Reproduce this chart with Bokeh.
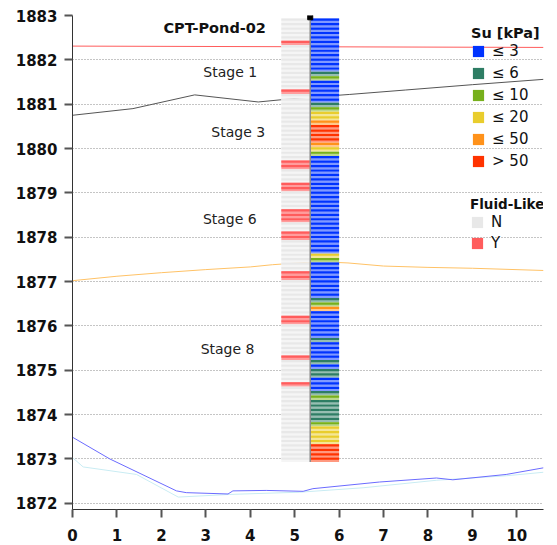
from bokeh.plotting import figure
from bokeh.models import Legend, LegendItem, ColumnDataSource, FixedTicker
from bokeh.embed import file_html
from bokeh.resources import INLINE
from bokeh.core.properties import value

FONT = "DejaVu Sans"

# --- Su classes -----------------------------------------------------------
SU_LABELS = ["≤ 3", "≤ 6", "≤ 10", "≤ 20", "≤ 50", "> 50"]
SU_COLORS = ["#0033ff", "#2e7d64", "#77b01c", "#e9cd2d", "#ff921a", "#ff3300"]

# CPT sounding: class index per 0.1 m sample, from the top of the hole down
CPT_NAME = "CPT-Pond-02"
CPT_X = 5.35
CPT_TOP = 1882.93
SAMPLE_STEP = 0.1
SU_CLASS = [
    0, 0, 0, 0, 0, 0, 0, 0, 0, 0,
    0, 0, 1, 2, 0, 0, 0, 0, 0, 1,
    2, 3, 3, 4, 5, 5, 5, 5, 4, 3,
    2, 0, 0, 0, 0, 0, 0, 0, 0, 0,
    0, 0, 0, 0, 0, 0, 0, 0, 0, 0,
    0, 0, 0, 3, 2, 0, 0, 0, 0, 0,
    0, 0, 0, 1, 2, 4, 0, 0, 0, 0,
    0, 0, 1, 0, 0, 0, 0, 1, 0, 1,
    1, 0, 0, 0, 1, 2, 1, 1, 1, 1,
    1, 2, 3, 3, 3, 3, 5, 5, 5, 5,
]
# samples flagged as fluid-like behaviour
FLUID_Y_SAMPLES = [5, 16, 32, 33, 37, 38, 43, 44, 45, 48, 49, 57, 58, 67, 68, 76, 82]
FLUID_LABELS = ["N", "Y"]
FLUID_DARK = ["#e8e8e8", "#ff5c5c"]
FLUID_LIGHT = ["#f5f5f5", "#ff9c9c"]

# --- stage surfaces along the section ---------------------------------------
STAGE1_X = [0, 10.6]
STAGE1_Y = [1882.31, 1882.28]
STAGE3_X = [0, 1.36, 2.75, 4.18, 5.11, 6.24, 7.5, 9.0, 10.6]
STAGE3_Y = [1880.75, 1880.90, 1881.21, 1881.05, 1881.14, 1881.22, 1881.32, 1881.44, 1881.56]
STAGE6_X = [0, 1.0, 2.0, 3.0, 4.0, 4.5, 5.5, 6.2, 7.0, 8.0, 9.0, 10.6]
STAGE6_Y = [1877.02, 1877.12, 1877.20, 1877.27, 1877.33, 1877.38, 1877.45, 1877.42, 1877.35, 1877.32, 1877.30, 1877.25]
STAGE8_X = [0, 0.84, 2.34, 2.56, 3.50, 3.61, 4.36, 5.19, 5.41, 6.91, 8.19, 8.56, 9.76, 10.6]
STAGE8_Y = [1873.49, 1873.00, 1872.28, 1872.24, 1872.21, 1872.28, 1872.29, 1872.27, 1872.33, 1872.48, 1872.57, 1872.53, 1872.65, 1872.80]
BASE_X = [0, 0.24, 1.44, 2.38, 3.54, 5.11, 6.54, 8.2, 9.76, 10.6]
BASE_Y = [1873.03, 1872.82, 1872.65, 1872.14, 1872.20, 1872.25, 1872.35, 1872.52, 1872.62, 1872.70]

STAGE_LABELS = ["Stage 1", "Stage 3", "Stage 6", "Stage 8"]
STAGE_LABEL_X = [3.55, 3.73, 3.54, 3.49]
STAGE_LABEL_Y = [1881.72, 1880.38, 1878.40, 1875.47]

X_TICKS = list(range(0, 11))
Y_TICKS = list(range(1872, 1884))


def lighten(hex_color, t=0.5):
    r, g, b = (int(hex_color[i:i + 2], 16) for i in (1, 3, 5))
    mix = lambda c: int(round(c + (255 - c) * t))
    return "#%02x%02x%02x" % (mix(r), mix(g), mix(b))


p = figure(width=557, height=545, x_range=(0, 10.6), y_range=(1871.86, 1883.0),
           output_backend="svg", toolbar_location=None,
           min_border_left=72, min_border_right=14, min_border_top=15, min_border_bottom=36)
p.outline_line_color = None
p.background_fill_color = "white"
p.xgrid.visible = False
p.ygrid.ticker = FixedTicker(ticks=Y_TICKS)
p.ygrid.grid_line_color = "#8a8a8a"
p.ygrid.grid_line_dash = "1 2"
p.ygrid.grid_line_width = 1

for ax in (p.xaxis[0], p.yaxis[0]):
    ax.axis_line_color = "#333333"
    ax.major_tick_line_color = "#555555"
    ax.major_tick_line_width = 2
    ax.minor_tick_line_color = None
    ax.major_tick_in = 0
    ax.major_tick_out = 8
    ax.major_label_text_font = FONT
    ax.major_label_text_font_style = "bold"
    ax.major_label_text_font_size = "15px"
    ax.major_label_text_color = "#111111"
p.xaxis.ticker = FixedTicker(ticks=X_TICKS)
p.yaxis.ticker = FixedTicker(ticks=Y_TICKS)
p.xaxis.major_label_standoff = 11
p.yaxis.major_label_standoff = 7

# stage surfaces
p.line(STAGE1_X, STAGE1_Y, line_color="#ff5c5c", line_width=1)
p.line(STAGE3_X, STAGE3_Y, line_color="#555555", line_width=1)
p.line(STAGE6_X, STAGE6_Y, line_color="#ffc266", line_width=1)
p.line(BASE_X, BASE_Y, line_color="#c9ecf3", line_width=1)
p.line(STAGE8_X, STAGE8_Y, line_color="#6b6bff", line_width=1)

# sounding columns: each sample drawn as a pale full-height cell with a
# solid upper half on top, which gives the banded look of the log
n = len(SU_CLASS)
tops = [CPT_TOP - i * SAMPLE_STEP for i in range(n)]
mids = [t - SAMPLE_STEP / 2 for t in tops]
bots = [t - SAMPLE_STEP for t in tops]
fluid_idx = [1 if i in FLUID_Y_SAMPLES else 0 for i in range(n)]

col_w = 0.65
fl_left, fl_right = CPT_X - col_w, CPT_X
su_left, su_right = CPT_X, CPT_X + col_w

p.quad(left=fl_left, right=fl_right, top=tops, bottom=bots,
       fill_color=[FLUID_LIGHT[k] for k in fluid_idx], line_color=None)
fluid_renderers = []
for k in range(len(FLUID_LABELS)):
    rows = [i for i in range(n) if fluid_idx[i] == k]
    src = ColumnDataSource(dict(top=[tops[i] for i in rows], bottom=[mids[i] for i in rows]))
    fluid_renderers.append(p.quad(left=fl_left, right=fl_right, top="top", bottom="bottom",
                                  source=src, fill_color=FLUID_DARK[k], line_color=None))

p.quad(left=su_left, right=su_right, top=tops, bottom=bots,
       fill_color=[lighten(SU_COLORS[k], 0.5) for k in SU_CLASS], line_color=None)
su_renderers = []
for k in range(len(SU_LABELS)):
    rows = [i for i in range(n) if SU_CLASS[i] == k]
    src = ColumnDataSource(dict(top=[tops[i] for i in rows], bottom=[mids[i] for i in rows]))
    su_renderers.append(p.quad(left=su_left, right=su_right, top="top", bottom="bottom",
                               source=src, fill_color=SU_COLORS[k], line_color=None))

p.segment(x0=[CPT_X], y0=[CPT_TOP], x1=[CPT_X], y1=[bots[-1]], line_color="#8c8c8c", line_width=1.5)
p.scatter(x=[CPT_X], y=[CPT_TOP + 0.03], marker="square", size=5, color="black")

# labels
p.text(x=[3.2], y=[1882.72], text=[CPT_NAME], text_font=value(FONT), text_font_style="bold",
       text_font_size="14.5px", text_align="center", text_baseline="middle", text_color="#111111")
p.text(x=STAGE_LABEL_X, y=STAGE_LABEL_Y, text=STAGE_LABELS, text_font=value(FONT),
       text_font_size="14px", text_align="center", text_baseline="middle", text_color="#222222")

# legends
su_items = [LegendItem(label=lab, renderers=[r]) for lab, r in zip(SU_LABELS, su_renderers)]
fl_items = [LegendItem(label=lab, renderers=[r]) for lab, r in zip(FLUID_LABELS, fluid_renderers)]


def style_legend(lg, title_size, spacing):
    lg.title_text_font = FONT
    lg.title_text_font_style = "bold"
    lg.title_text_font_size = title_size
    lg.title_text_color = "#111111"
    lg.title_standoff = 1
    lg.label_text_font = FONT
    lg.label_text_font_size = "15px"
    lg.label_text_color = "#111111"
    lg.label_text_baseline = "middle"
    lg.glyph_width = 14
    lg.glyph_height = 14
    lg.label_height = 14
    lg.label_standoff = 7
    lg.spacing = spacing
    lg.padding = 0
    lg.margin = 0
    lg.border_line_color = None
    lg.background_fill_alpha = 0


su_legend = Legend(items=su_items, title="Su [kPa]", location=(399, 339))
style_legend(su_legend, "14.5px", 4)
fl_legend = Legend(items=fl_items, title="Fluid-Like", location=(398, 257))
style_legend(fl_legend, "13.5px", 3)
p.add_layout(su_legend)
p.add_layout(fl_legend)

open("out.html", "w").write(file_html(p, INLINE))
